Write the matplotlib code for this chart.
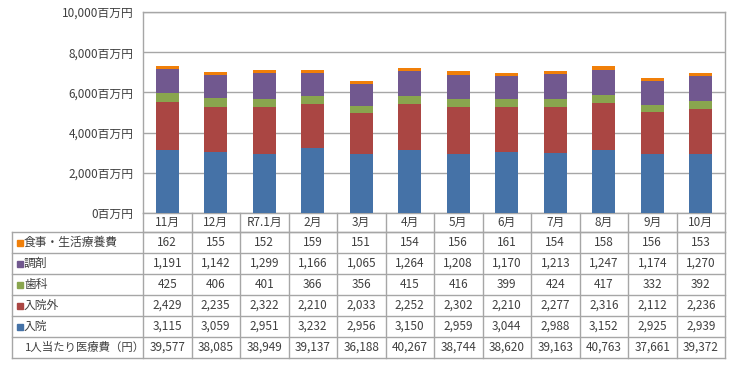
import numpy as np
import matplotlib
matplotlib.use("Agg")
import matplotlib.pyplot as plt

plt.rcParams['font.family'] = ['Noto Sans CJK JP', 'DejaVu Sans']

months = ["11月", "12月", "R7.1月", "2月", "3月", "4月", "5月", "6月", "7月", "8月", "9月", "10月"]

# bottom to top
nyuin = [3115, 3059, 2951, 3232, 2956, 3150, 2959, 3044, 2988, 3152, 2925, 2939]
nyuingai = [2429, 2235, 2322, 2210, 2033, 2252, 2302, 2210, 2277, 2316, 2112, 2236]
shika = [425, 406, 401, 366, 356, 415, 416, 399, 424, 417, 332, 392]
chozai = [1191, 1142, 1299, 1166, 1065, 1264, 1208, 1170, 1213, 1247, 1174, 1270]
shokuji = [162, 155, 152, 159, 151, 154, 156, 161, 154, 158, 156, 153]
per_person = [39577, 38085, 38949, 39137, 36188, 40267, 38744, 38620, 39163, 40763, 37661, 39372]

series = [
    ("入院", nyuin, "#4572A7"),
    ("入院外", nyuingai, "#AA4643"),
    ("歯科", shika, "#89A54E"),
    ("調剤", chozai, "#71588F"),
    ("食事・生活療養費", shokuji, "#F07F09"),
]

W, H = 733, 370
fig = plt.figure(figsize=(W / 100, H / 100), dpi=100)

grey = "#A6A6A6"
txt = "#404040"

# chart area in pixels
px_l, px_r, px_t, px_b = 143, 725, 12, 213
ax = fig.add_axes([px_l / W, 1 - px_b / H, (px_r - px_l) / W, (px_b - px_t) / H])

x = np.arange(len(months))
bottom = np.zeros(len(months))
for name, vals, col in series:
    ax.bar(x, vals, 0.48, bottom=bottom, color=col, zorder=3)
    bottom += np.array(vals)

ax.set_xlim(-0.5, len(months) - 0.5)
ax.set_ylim(0, 10000)
ax.set_yticks(np.arange(0, 10001, 2000))
ax.set_yticklabels([f"{v:,}百万円" for v in range(0, 10001, 2000)], fontsize=8.5, color=txt)
ax.set_xticks([])
ax.tick_params(axis='y', length=0, pad=7)
ax.grid(axis='y', color=grey, linewidth=1, zorder=0)
for s in ax.spines.values():
    s.set_color(grey)
    s.set_linewidth(1)

# table below
tb_l, tb_b = 12, 358
tab = fig.add_axes([tb_l / W, 1 - tb_b / H, (px_r - tb_l) / W, (tb_b - px_b) / H])
tab.set_xlim(tb_l, px_r)
tab.set_ylim(tb_b, px_b)
tab.axis('off')

colw = (px_r - px_l) / len(months)
col_edges = px_l + colw * np.arange(len(months) + 1)
head_h = 19
row_h = (tb_b - px_b - head_h) / 6
row_edges = px_b + head_h + row_h * np.arange(7)

lk = dict(color=grey, linewidth=1, clip_on=False)
# header row
tab.plot([px_l, px_r], [row_edges[0], row_edges[0]], **lk)
for cx in col_edges:
    tab.plot([cx, cx], [px_b, tb_b], **lk)
for i, m in enumerate(months):
    tab.text((col_edges[i] + col_edges[i + 1]) / 2, px_b + head_h / 2, m,
             ha='center', va='center', fontsize=8.5, color=txt)

# data rows
for ry in row_edges:
    tab.plot([tb_l, px_r], [ry, ry], **lk)
tab.plot([tb_l, tb_l], [row_edges[0], tb_b], **lk)

rows = [(n, v, c) for n, v, c in series[::-1]] + [("1人当たり医療費（円）", per_person, None)]
for r, (name, vals, col) in enumerate(rows):
    cy = (row_edges[r] + row_edges[r + 1]) / 2
    if col is not None:
        tab.plot(tb_l + 8, cy, 's', color=col, markersize=5, clip_on=False)
        tab.text(tb_l + 12, cy, name, ha='left', va='center', fontsize=8.5, color=txt)
    else:
        tab.text(tb_l + 13, cy, name, ha='left', va='center', fontsize=8.2, color=txt)
    for i, v in enumerate(vals):
        tab.text((col_edges[i] + col_edges[i + 1]) / 2, cy, f"{v:,}",
                 ha='center', va='center', fontsize=8.5, color=txt)

fig.savefig("out.png", dpi=100)
